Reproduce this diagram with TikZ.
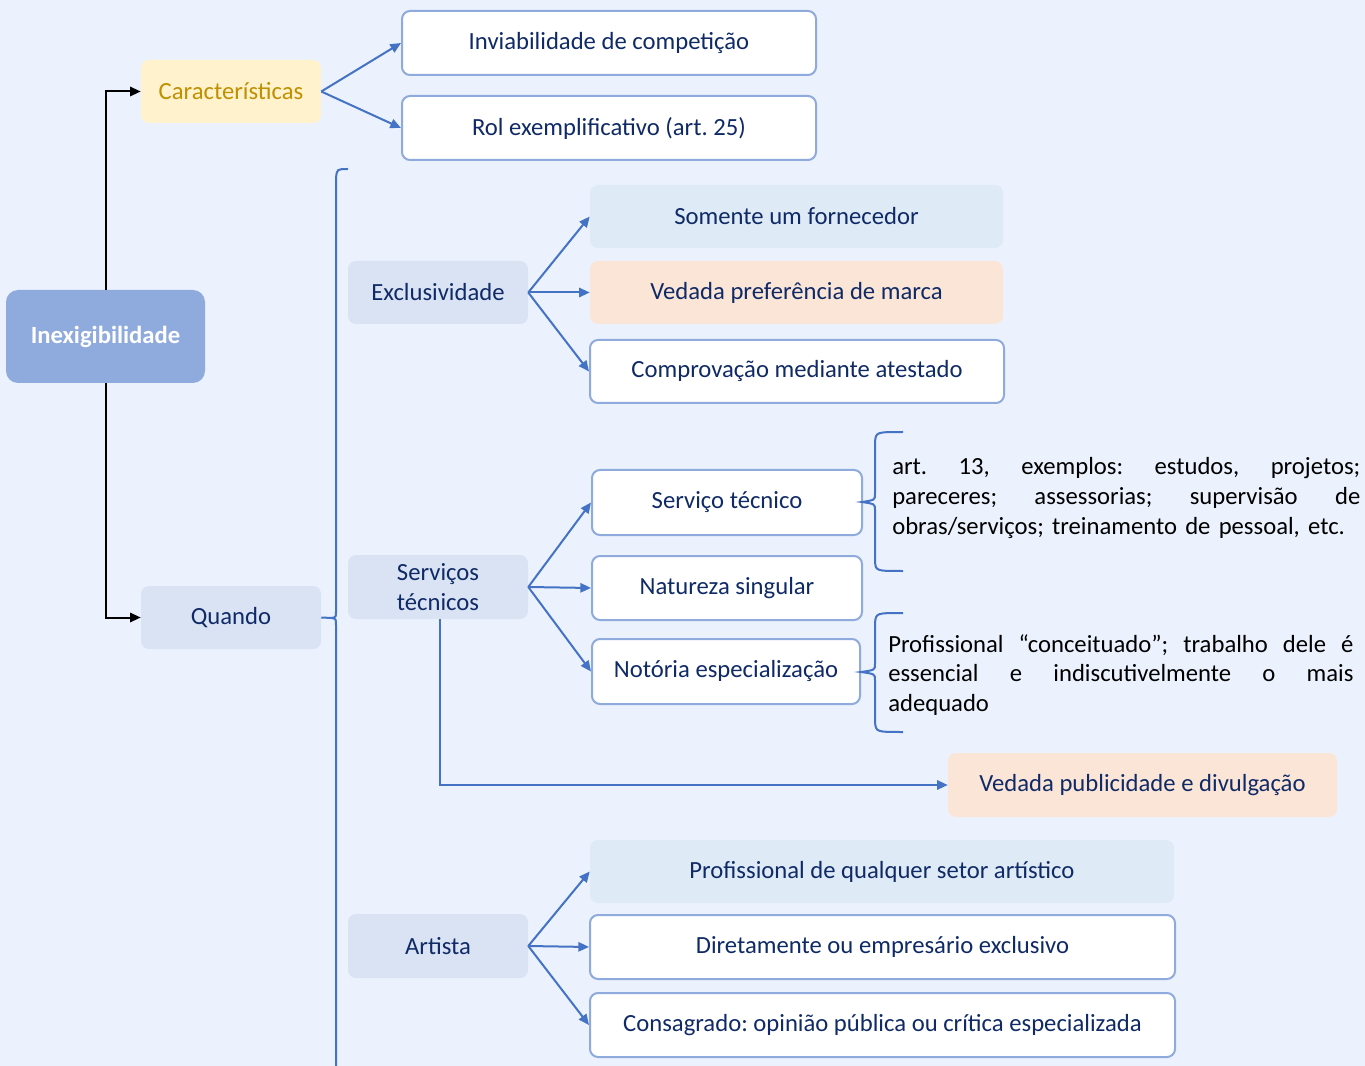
\documentclass[tikz,border=0pt]{standalone}
\usepackage{fontspec}
\setmainfont{Carlito}
\usetikzlibrary{arrows.meta}
\definecolor{bg}{HTML}{EBF2FD}
\definecolor{inex}{HTML}{8FAADC}
\definecolor{lb}{HTML}{DAE3F3}
\definecolor{lb2}{HTML}{DEEAF6}
\definecolor{peach}{HTML}{FBE5D6}
\definecolor{yel}{HTML}{FFF2CC}
\definecolor{gold}{HTML}{BF9000}
\definecolor{bord}{HTML}{8FAADC}
\definecolor{arr}{HTML}{4472C4}
\definecolor{txt}{HTML}{0F2A66}
\newcommand\mybox[7]{\node[#1, minimum width={(#5-#3)*0.75pt}, minimum height={(#6-#4)*0.75pt}] (#2) at ({(#3+#5)/2},{(#4+#6)/2}) {#7};}
\newcommand\jline[2]{\leavevmode\hbox to #1{#2}}
\begin{document}
\begin{tikzpicture}[x=0.75pt,y=-0.75pt,
  box/.style={rounded corners=6pt, inner sep=0pt, font=\fontsize{18.5}{22.5}\selectfont\frenchspacing, text=txt, align=center},
  wbox/.style={box, fill=white, draw=bord, line width=1.5pt},
  lbox/.style={box, fill=lb},
  lbox2/.style={box, fill=lb2},
  pbox/.style={box, fill=peach},
  ybox/.style={box, fill=yel, text=gold},
  ibox/.style={box, rounded corners=9pt, fill=inex, text=white, font=\fontsize{18.5}{22.5}\selectfont\bfseries},
  conn/.style={draw=arr, line width=1.5pt, -{Triangle[length=8pt,width=7pt]}},
  blk/.style={draw=black, line width=1.5pt, -{Triangle[length=8pt,width=7pt]}},
  brace/.style={draw=arr, line width=1.5pt},
  note/.style={anchor=north west, inner sep=0pt, text width=351pt, font=\fontsize{18.5}{22.4}\selectfont\frenchspacing, align=left}
]
\useasboundingbox[fill=bg] (0,0) rectangle (1365,1066);

% main nodes
\mybox{ibox}{inex}{6}{290}{205}{383}{Inexigibilidade}
\mybox{ybox}{car}{141}{60}{321}{123}{Características}
\mybox{lbox}{quando}{141}{586}{321}{649}{Quando}
\mybox{wbox}{inv}{402}{11}{816}{75}{Inviabilidade de competição}
\mybox{wbox}{rol}{402}{96}{816}{160}{Rol exemplificativo (art. 25)}

\mybox{lbox}{excl}{348}{261}{528}{324}{Exclusividade}
\mybox{lbox2}{som}{590}{185}{1003}{248}{Somente um fornecedor}
\mybox{pbox}{ved}{590}{261}{1003}{324}{Vedada preferência de marca}
\mybox{wbox}{comp}{590}{340}{1004}{403}{Comprovação mediante atestado}

\mybox{lbox}{serv}{348}{555}{528}{619}{Serviços\\técnicos}
\mybox{wbox}{stec}{592}{470}{862}{535}{Serviço técnico}
\mybox{wbox}{nat}{592}{556}{862}{620}{Natureza singular}
\mybox{wbox}{not}{592}{639}{860}{704}{Notória especialização}
\mybox{pbox}{vpub}{948}{753}{1337}{817}{Vedada publicidade e divulgação}

\mybox{lbox}{art}{348}{914}{528}{978}{Artista}
\mybox{lbox2}{prof}{590}{840}{1174}{903}{Profissional de qualquer setor artístico}
\mybox{wbox}{dir}{590}{915}{1175}{979}{Diretamente ou empresário exclusivo}
\mybox{wbox}{cons}{590}{993}{1175}{1057}{Consagrado: opinião pública ou crítica especializada}

% black connectors
\draw[blk] (inex.north) |- (car.west);
\draw[blk] (inex.south) |- (quando.west);

% fans
\draw[conn] (car.east) -- (inv.west);
\draw[conn] (car.east) -- (rol.west);
\draw[conn] (excl.east) -- (som.west);
\draw[conn] (excl.east) -- (ved.west);
\draw[conn] (excl.east) -- (comp.west);
\draw[conn] (serv.east) -- (stec.west);
\draw[conn] (serv.east) -- (nat.west);
\draw[conn] (serv.east) -- (not.west);
\draw[conn] (art.east) -- (prof.west);
\draw[conn] (art.east) -- (dir.west);
\draw[conn] (art.east) -- (cons.west);
\draw[conn] ([xshift=1.5pt]serv.south) |- (vpub.west);

% big brace
\coordinate (bt) at (332,618);
\draw[brace] (quando.east) -- (bt);
\draw[brace] (348,169) .. controls (337,169) .. (336,178) -- (336,612) .. controls (336,617) .. (bt) .. controls (336,619) .. (336,625) -- (336,1075);

% small braces
\coordinate (b1) at (862,502);
\draw[brace] (903,432) .. controls (876,432) .. (875,442) -- (875,494) .. controls (875,500) .. (b1) .. controls (875,504) .. (875,510) -- (875,562) .. controls (876,571) .. (903,571);
\coordinate (b2) at (861,672);
\draw[brace] (903,613) .. controls (876,613) .. (875,623) -- (875,664) .. controls (875,670) .. (b2) .. controls (875,674) .. (875,680) -- (875,722) .. controls (876,732) .. (903,732);

% notes
\node[note] (n1) at (892,457) {\jline{351pt}{art.\hfill 13,\hfill exemplos:\hfill estudos,\hfill projetos;}\\
\jline{351pt}{pareceres;\hfill assessorias;\hfill supervisão\hfill de}\\
obras/serviços; treinamento de pessoal, etc.};
\node[note, text width=349pt] (n2) at (888,634) {\jline{349pt}{Profissional\hfill “conceituado”;\hfill trabalho\hfill dele\hfill é}\\
\jline{349pt}{essencial\hfill e\hfill indiscutivelmente\hfill o\hfill mais}\\
adequado};
\end{tikzpicture}
\end{document}
